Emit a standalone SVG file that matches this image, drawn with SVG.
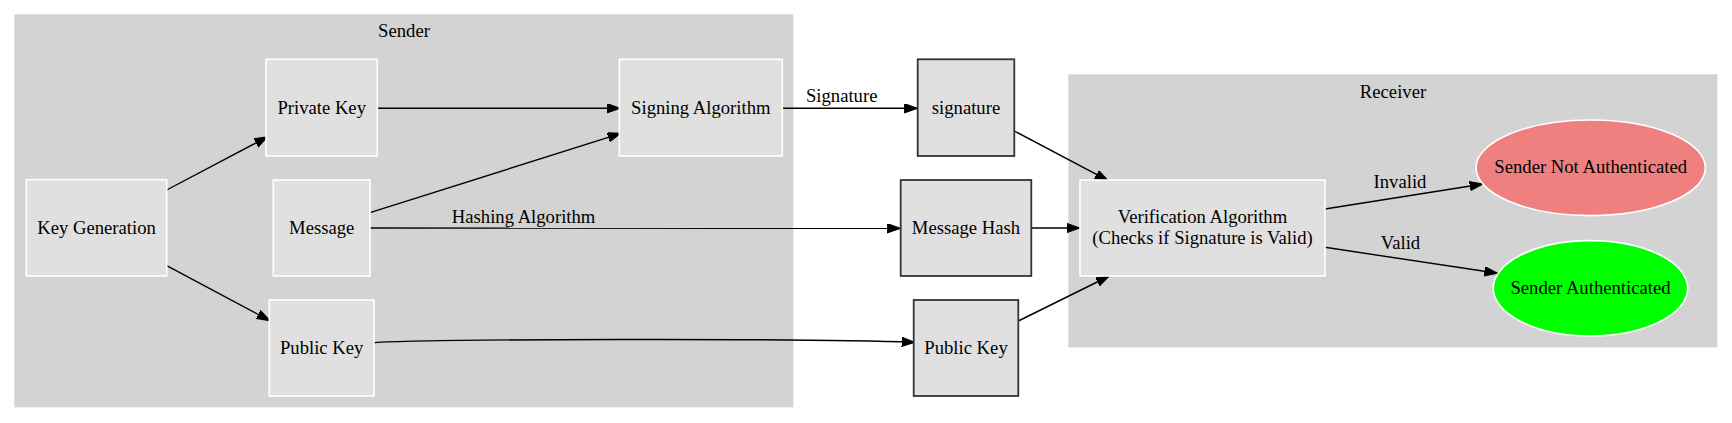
<svg xmlns="http://www.w3.org/2000/svg" width="1732" height="423" viewBox="0 0 1732 423">
<style>
text{font-family:"Liberation Serif","Times New Roman",serif;font-size:18.67px;fill:#000;text-anchor:middle}
.cl{fill:#d3d3d3;stroke:#d3d3d3;stroke-width:1.33}
.in{fill:#e0e0e0;stroke:#ffffff;stroke-width:1.6}
.out{fill:#e0e0e0;stroke:#333333;stroke-width:1.8}
.e{fill:none;stroke:#000;stroke-width:1.4;marker-end:url(#ah)}
</style>
<defs>
<marker id="ah" markerUnits="userSpaceOnUse" markerWidth="14" markerHeight="10" refX="13.33" refY="4.67" orient="auto">
<path d="M0,0 L13.33,4.67 L0,9.33 z" fill="#000" stroke="#000" stroke-width="1"/>
</marker>
</defs>
<rect width="1732" height="423" fill="#fff"/>
<g id="cluster_sender">
<rect class="cl" x="15" y="15" width="777.7" height="391.7"/>
<text x="404" y="37">Sender</text>
</g>
<g id="cluster_receiver">
<rect class="cl" x="1069" y="75" width="647.7" height="271.7"/>
<text x="1393" y="97.7">Receiver</text>
</g>
<g id="edges">
<path class="e" d="M166.7,190 L267.7,136.7"/>
<path class="e" d="M166.7,265.7 L270,320.7"/>
<path class="e" d="M377.3,108.3 L620.3,108.3"/>
<path class="e" d="M370,212.7 L621,133.3"/>
<path class="e" d="M370,228 L900.7,228.3"/>
<text x="523.6" y="223.3">Hashing Algorithm</text>
<path class="e" d="M374,342.7 C420,339 800,338 915,342.3"/>
<path class="e" d="M782.3,108.3 L917.7,108.3"/>
<text x="841.7" y="101.7">Signature</text>
<path class="e" d="M1014.3,131 L1108.3,180.7"/>
<path class="e" d="M1031.3,228 L1080,228"/>
<path class="e" d="M1018.3,321 L1109.3,276"/>
<path class="e" d="M1325,209 L1483,184"/>
<text x="1400" y="188.3">Invalid</text>
<path class="e" d="M1325,247.3 L1497.7,273.3"/>
<text x="1400.5" y="248.7">Valid</text>
</g>
<g id="key_generation">
<rect class="in" x="26.3" y="179.7" width="140.4" height="96.3"/>
<text x="96.5" y="234">Key Generation</text>
</g>
<g id="private_key">
<rect class="in" x="266" y="59.3" width="111.3" height="96.7"/>
<text x="321.7" y="114.3">Private Key</text>
</g>
<g id="message">
<rect class="in" x="273.3" y="180" width="96.7" height="96"/>
<text x="321.7" y="234">Message</text>
</g>
<g id="public_key_sender">
<rect class="in" x="269.3" y="300" width="104.7" height="96"/>
<text x="321.7" y="354">Public Key</text>
</g>
<g id="signing_algorithm">
<rect class="in" x="619.3" y="59.3" width="163" height="96.7"/>
<text x="700.8" y="114.3">Signing Algorithm</text>
</g>
<g id="signature">
<rect class="out" x="917.7" y="59.3" width="96.6" height="96.7"/>
<text x="966" y="114.3">signature</text>
</g>
<g id="message_hash">
<rect class="out" x="900.7" y="180" width="130.6" height="96"/>
<text x="966" y="234">Message Hash</text>
</g>
<g id="public_key_out">
<rect class="out" x="913.7" y="300" width="104.6" height="96"/>
<text x="966" y="354">Public Key</text>
</g>
<g id="verification_algorithm">
<rect class="in" x="1080" y="180" width="245" height="96"/>
<text x="1202.5" y="222.7">Verification Algorithm</text>
<text x="1202.5" y="244.3">(Checks if Signature is Valid)</text>
</g>
<g id="sender_not_authenticated">
<ellipse cx="1590.7" cy="167.8" rx="114.7" ry="47.8" fill="#f08080" stroke="#fff" stroke-width="1.6"/>
<text x="1590.7" y="173.3">Sender Not Authenticated</text>
</g>
<g id="sender_authenticated">
<ellipse cx="1590.5" cy="288.3" rx="97.2" ry="47.7" fill="#00ff00" stroke="#fff" stroke-width="1.6"/>
<text x="1590.5" y="293.8">Sender Authenticated</text>
</g>
</svg>
